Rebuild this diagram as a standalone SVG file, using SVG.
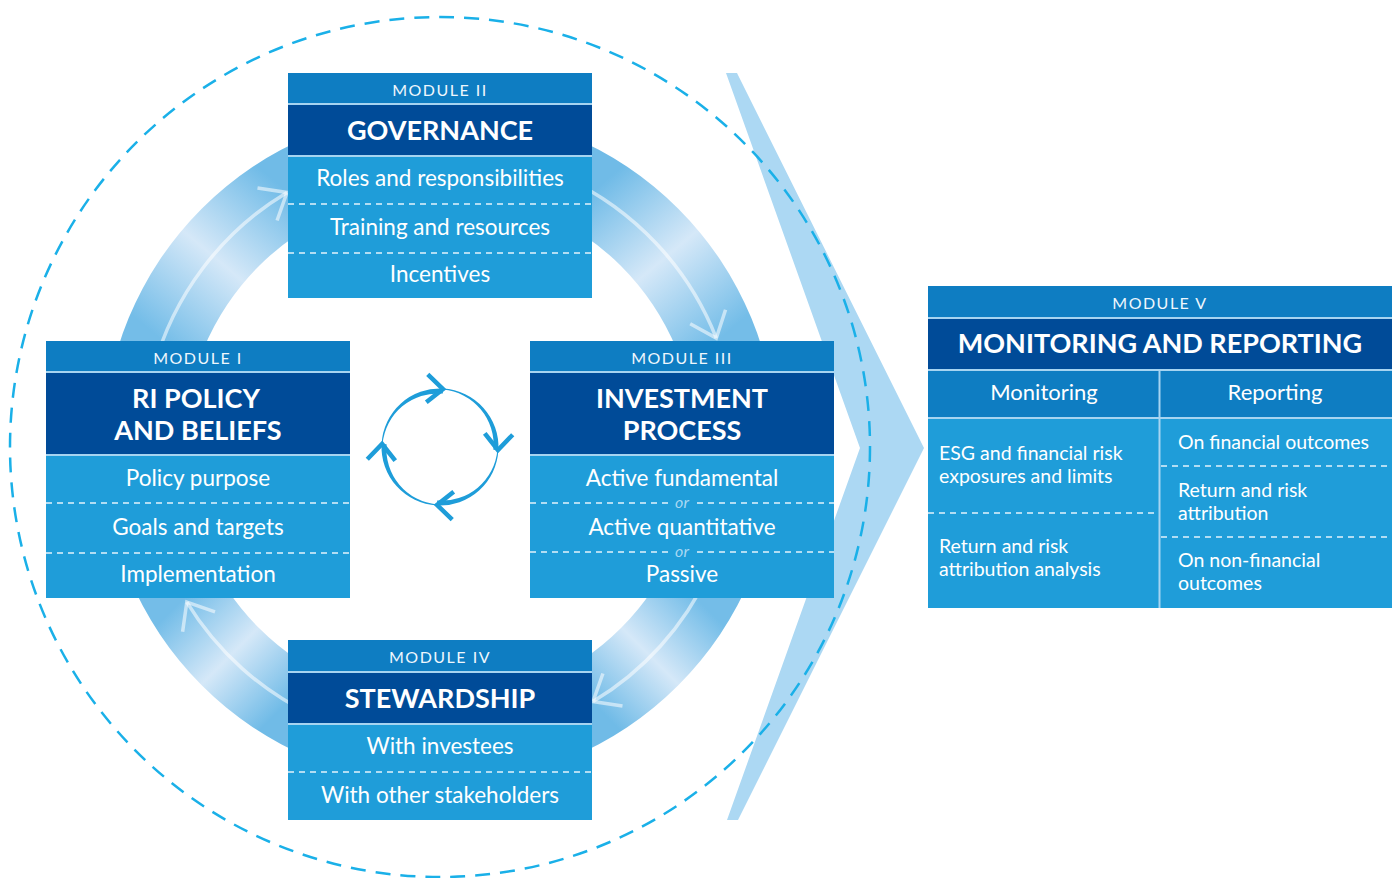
<svg xmlns="http://www.w3.org/2000/svg" width="1397" height="878" viewBox="0 0 1397 878">
<defs>
<style>
.hdr{fill:#0e7dc2}
.ttl{fill:#004b98}
.body{fill:#1f9dd9}
.sep{stroke:#a6d4f1;stroke-width:2;fill:none}
.dash{stroke:#e3f2fb;stroke-width:1.3;stroke-dasharray:6 5;fill:none}
text{font-family:Lato,"Liberation Sans",sans-serif;fill:#ffffff}
.mod{font-size:16px;letter-spacing:1.5px;text-anchor:middle;fill:#eef7fd}
.tt{font-size:27px;font-weight:bold;text-anchor:middle}
.it{font-size:22.5px;text-anchor:middle}
.sub{font-size:22px;text-anchor:middle}
.or{font-size:16px;font-style:italic;text-anchor:middle;fill:#a9d8f3}
.sm{font-size:19.5px}
.flow{stroke:#ffffff;stroke-opacity:0.55;stroke-width:3.5;fill:none}
.cyc{stroke:#1e9dd9;stroke-width:4.5;fill:none}
</style>
<linearGradient id="gTL" gradientUnits="userSpaceOnUse" x1="163" y1="341" x2="288" y2="192">
<stop offset="0" stop-color="#74bde8"/><stop offset="0.5" stop-color="#d5e8f8"/><stop offset="1" stop-color="#70bbe7"/></linearGradient>
<linearGradient id="gTR" gradientUnits="userSpaceOnUse" x1="592" y1="192" x2="717" y2="341">
<stop offset="0" stop-color="#70bbe7"/><stop offset="0.5" stop-color="#d5e8f8"/><stop offset="1" stop-color="#74bde8"/></linearGradient>
<linearGradient id="gBR" gradientUnits="userSpaceOnUse" x1="696" y1="598" x2="592" y2="702">
<stop offset="0" stop-color="#74bde8"/><stop offset="0.5" stop-color="#d5e8f8"/><stop offset="1" stop-color="#70bbe7"/></linearGradient>
<linearGradient id="gBL" gradientUnits="userSpaceOnUse" x1="288" y1="702" x2="184" y2="598">
<stop offset="0" stop-color="#70bbe7"/><stop offset="0.5" stop-color="#d5e8f8"/><stop offset="1" stop-color="#74bde8"/></linearGradient>
</defs>

<g id="chevron">
<polygon points="726,73 737,73 924,448 738,820 727,820 860,448" fill="#acd8f3"/>
</g>

<g id="ring">
<path d="M 103 447 A 337 337 0 0 1 440 110 L 440 191 A 256 256 0 0 0 184 447 Z" fill="url(#gTL)"/>
<path d="M 440 110 A 337 337 0 0 1 777 447 L 696 447 A 256 256 0 0 0 440 191 Z" fill="url(#gTR)"/>
<path d="M 777 447 A 337 337 0 0 1 440 784 L 440 703 A 256 256 0 0 0 696 447 Z" fill="url(#gBR)"/>
<path d="M 440 784 A 337 337 0 0 1 103 447 L 184 447 A 256 256 0 0 0 440 703 Z" fill="url(#gBL)"/>
</g>

<g id="connectors">
<path class="flow" d="M 153.1 370.1 A 297 297 0 0 1 287 192.4"/>
<path class="flow" d="M -23 -19 L 0 0 L -23 19" transform="translate(287,192.4) rotate(329)"/>
<path class="flow" d="M 565.5 177.8 A 297 297 0 0 1 716.3 338.1"/>
<path class="flow" d="M -23 -19 L 0 0 L -23 19" transform="translate(716.3,338.1) rotate(68.5)"/>
<path class="flow" d="M 709.2 572.5 A 297 297 0 0 1 593 701.6"/>
<path class="flow" d="M -23 -19 L 0 0 L -23 19" transform="translate(593,701.6) rotate(149)"/>
<path class="flow" d="M 314.5 716.2 A 297 297 0 0 1 186.8 602.2"/>
<path class="flow" d="M -23 -19 L 0 0 L -23 19" transform="translate(186.8,602.2) rotate(238.5)"/>
</g>

<g id="outer-circle">
<circle cx="440" cy="447" r="430" fill="none" stroke="#1ab0e8" stroke-width="2.5" stroke-dasharray="15 10"/>
</g>

<g id="cycle">
<path fill="#1e9dd9" d="M 381.6 443.9 A 58.5 58.5 0 0 1 443.1 388.6 L 442.8 393.6 A 55.5 55.5 0 0 0 382.6 444 Z"/>
<path fill="#1e9dd9" d="M 443.1 388.6 A 58.5 58.5 0 0 1 498.4 450.1 L 493.4 449.8 A 55.5 55.5 0 0 0 443 389.6 Z"/>
<path fill="#1e9dd9" d="M 498.4 450.1 A 58.5 58.5 0 0 1 436.9 505.4 L 437.2 500.4 A 55.5 55.5 0 0 0 497.4 450 Z"/>
<path fill="#1e9dd9" d="M 436.9 505.4 A 58.5 58.5 0 0 1 381.6 443.9 L 386.6 444.2 A 55.5 55.5 0 0 0 437 504.4 Z"/>
<path class="cyc" d="M -16 -14 L 0 0 L -16 14" transform="translate(443,389.1) rotate(3)"/>
<path class="cyc" d="M -16 -14 L 0 0 L -16 14" transform="translate(497.9,450) rotate(93)"/>
<path class="cyc" d="M -16 -14 L 0 0 L -16 14" transform="translate(437,504.9) rotate(183)"/>
<path class="cyc" d="M -16 -14 L 0 0 L -16 14" transform="translate(382.1,444) rotate(273)"/>
</g>

<g id="module-1">
<rect class="hdr" x="46" y="341" width="304" height="31"/>
<rect class="ttl" x="46" y="372" width="304" height="83"/>
<rect class="body" x="46" y="455" width="304" height="143"/>
<line class="sep" x1="46" y1="372" x2="350" y2="372"/>
<line class="sep" x1="46" y1="455" x2="350" y2="455"/>
<line class="dash" x1="46" y1="503" x2="350" y2="503"/>
<line class="dash" x1="46" y1="553" x2="350" y2="553"/>
<text class="mod" x="198" y="364">MODULE I</text>
<text class="tt" x="196" y="408">RI POLICY</text>
<text class="tt" x="198" y="440">AND BELIEFS</text>
<text class="it" x="198" y="486">Policy purpose</text>
<text class="it" x="198" y="535">Goals and targets</text>
<text class="it" x="198" y="582">Implementation</text>
</g>

<g id="module-2">
<rect class="hdr" x="288" y="73" width="304" height="31"/>
<rect class="ttl" x="288" y="104" width="304" height="52"/>
<rect class="body" x="288" y="156" width="304" height="142"/>
<line class="sep" x1="288" y1="104" x2="592" y2="104"/>
<line class="sep" x1="288" y1="156" x2="592" y2="156"/>
<line class="dash" x1="288" y1="204" x2="592" y2="204"/>
<line class="dash" x1="288" y1="253" x2="592" y2="253"/>
<text class="mod" x="440" y="96">MODULE II</text>
<text class="tt" x="440" y="140">GOVERNANCE</text>
<text class="it" x="440" y="186">Roles and responsibilities</text>
<text class="it" x="440" y="235">Training and resources</text>
<text class="it" x="440" y="282">Incentives</text>
</g>

<g id="module-3">
<rect class="hdr" x="530" y="341" width="304" height="31"/>
<rect class="ttl" x="530" y="372" width="304" height="83"/>
<rect class="body" x="530" y="455" width="304" height="143"/>
<line class="sep" x1="530" y1="372" x2="834" y2="372"/>
<line class="sep" x1="530" y1="455" x2="834" y2="455"/>
<line class="dash" x1="530" y1="503" x2="668" y2="503"/>
<line class="dash" x1="697" y1="503" x2="834" y2="503"/>
<line class="dash" x1="530" y1="552" x2="668" y2="552"/>
<line class="dash" x1="697" y1="552" x2="834" y2="552"/>
<text class="mod" x="682" y="364">MODULE III</text>
<text class="tt" x="682" y="408">INVESTMENT</text>
<text class="tt" x="682" y="440">PROCESS</text>
<text class="it" x="682" y="486">Active fundamental</text>
<text class="or" x="682" y="508">or</text>
<text class="it" x="682" y="535">Active quantitative</text>
<text class="or" x="682" y="557">or</text>
<text class="it" x="682" y="582">Passive</text>
</g>

<g id="module-4">
<rect class="hdr" x="288" y="640" width="304" height="32"/>
<rect class="ttl" x="288" y="672" width="304" height="52"/>
<rect class="body" x="288" y="724" width="304" height="96"/>
<line class="sep" x1="288" y1="672" x2="592" y2="672"/>
<line class="sep" x1="288" y1="724" x2="592" y2="724"/>
<line class="dash" x1="288" y1="772" x2="592" y2="772"/>
<text class="mod" x="440" y="663">MODULE IV</text>
<text class="tt" x="440" y="708">STEWARDSHIP</text>
<text class="it" x="440" y="754">With investees</text>
<text class="it" x="440" y="803">With other stakeholders</text>
</g>

<g id="module-5">
<rect class="hdr" x="928" y="286" width="464" height="32"/>
<rect class="ttl" x="928" y="318" width="464" height="52"/>
<rect class="hdr" x="928" y="370" width="464" height="48"/>
<rect class="body" x="928" y="418" width="464" height="190"/>
<line class="sep" x1="928" y1="318" x2="1392" y2="318"/>
<line class="sep" x1="928" y1="370" x2="1392" y2="370"/>
<line class="sep" x1="928" y1="418" x2="1392" y2="418"/>
<line class="sep" x1="1159.5" y1="370" x2="1159.5" y2="608"/>
<line class="dash" x1="928" y1="513" x2="1158" y2="513"/>
<line class="dash" x1="1161" y1="466" x2="1392" y2="466"/>
<line class="dash" x1="1161" y1="537" x2="1392" y2="537"/>
<text class="mod" x="1160" y="309">MODULE V</text>
<text class="tt" x="1160" y="353" font-size="28">MONITORING AND REPORTING</text>
<text class="sub" x="1044" y="400">Monitoring</text>
<text class="sub" x="1275" y="400">Reporting</text>
<text class="sm" x="939" y="460">ESG and financial risk</text>
<text class="sm" x="939" y="483">exposures and limits</text>
<text class="sm" x="939" y="553">Return and risk</text>
<text class="sm" x="939" y="576">attribution analysis</text>
<text class="sm" x="1178" y="449">On financial outcomes</text>
<text class="sm" x="1178" y="497">Return and risk</text>
<text class="sm" x="1178" y="520">attribution</text>
<text class="sm" x="1178" y="567">On non-financial</text>
<text class="sm" x="1178" y="590">outcomes</text>
</g>
</svg>
